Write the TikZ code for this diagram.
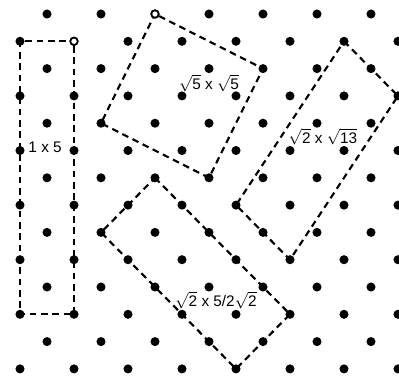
\documentclass[tikz,border=0pt]{standalone}
\usepackage{fontspec}
\setmainfont{Liberation Sans}
\usetikzlibrary{positioning}

\begin{document}
\begin{tikzpicture}[
    x=20.25pt, y=20.475pt,
    dot/.style={circle, fill=black, inner sep=0pt, minimum size=6.8pt},
    hollowdot/.style={circle, draw=black, fill=white, line width=1.3pt, inner sep=0pt, minimum size=5.6pt},
    dashline/.style={line width=1.6pt, dash pattern=on 5pt off 3.5pt},
    lab/.style={font=\fontsize{11.5}{13}\selectfont, inner sep=1pt},
]
    \useasboundingbox (-0.741,0.513) rectangle (14.037,-13.48);

    % Lattice points
    \foreach \r in {0,2,...,12}
        \foreach \c in {1,3,...,13}
            \node[dot] (p-\c-\r) at (\c,-\r) {};
    \foreach \r in {1,3,...,13}
        \foreach \c in {0,2,...,14}
            \node[dot] (p-\c-\r) at (\c,-\r) {};

    % Open corners
    \node[hollowdot] (h-2-1) at (p-2-1) {};
    \node[hollowdot] (h-5-0) at (p-5-0) {};

    % Rectangles
    \draw[dashline] (h-2-1) -- (p-2-11.center) -- (p-0-11.center) -- (p-0-1.center) -- (h-2-1);
    \draw[dashline] (h-5-0) -- (p-9-2.center) -- (p-7-6.center) -- (p-3-4.center) -- (h-5-0);
    \draw[dashline] (p-12-1.center) -- (p-14-3.center) -- (p-10-9.center) -- (p-8-7.center) -- cycle;
    \draw[dashline] (p-5-6.center) -- (p-10-11.center) -- (p-8-13.center) -- (p-3-8.center) -- cycle;

    % Labels
    \node[lab] (l-a) at (0.93,-4.87) {1 x 5};
    \node[lab] (l-b) at (7.0,-2.53) {$\sqrt{\mbox{5}}$ x $\sqrt{\mbox{5}}$};
    \node[lab] (l-c) at (11.22,-4.5) {$\sqrt{\mbox{2}}$ x $\sqrt{\mbox{13}}$};
    \node[lab] (l-d) at (7.26,-10.48) {$\sqrt{\mbox{2}}$ x 5/2$\sqrt{\mbox{2}}$};
\end{tikzpicture}
\end{document}
